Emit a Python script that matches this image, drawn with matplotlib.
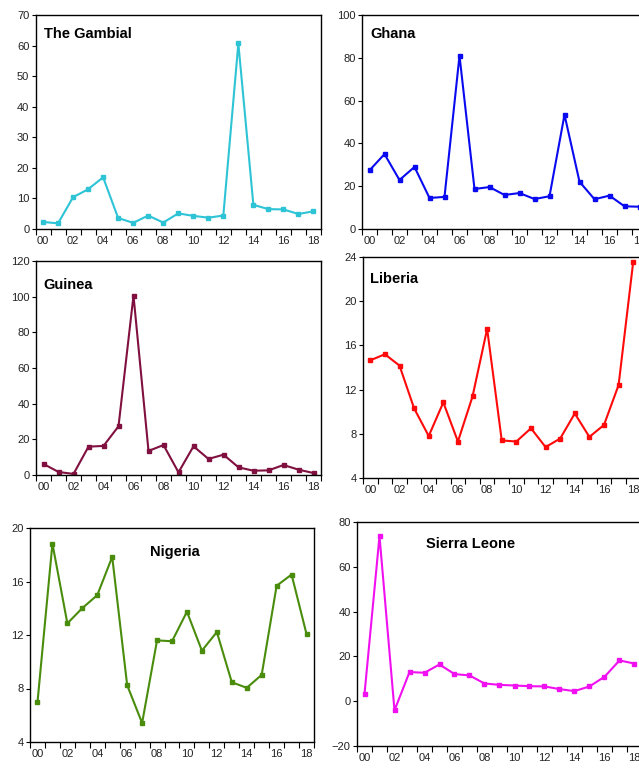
import numpy as np
import matplotlib
matplotlib.use("Agg")
import matplotlib.pyplot as plt

plt.rcParams['font.family'] = ['Liberation Sans', 'DejaVu Sans']

years = list(range(2000, 2019))
year_labels = [f"{y % 100:02d}" for y in years]

gambia = [2.3, 1.85, 10.4, 13.0, 16.9, 3.6, 2.0, 4.4, 2.1, 5.1, 4.3, 3.7, 4.4,
          60.7, 7.9, 6.5, 6.4, 4.9, 5.8]
ghana = [27.4, 35.0, 22.9, 29.0, 14.5, 15.0, 81.0, 18.7, 19.6, 15.9, 16.8, 14.0,
         15.3, 53.4, 22.1, 13.9, 15.6, 10.6, 10.4]
guinea = [6.2, 1.7, 0.6, 15.9, 16.3, 27.3, 100.6, 13.5, 16.8, 1.5, 16.1, 9.0,
          11.4, 4.3, 2.4, 2.6, 5.6, 3.0, 1.1]
liberia = [14.65, 15.2, 14.17, 10.3, 7.8, 10.84, 7.3, 11.38, 17.5, 7.4, 7.3,
           8.5, 6.8, 7.57, 9.84, 7.72, 8.8, 12.41, 23.55]
nigeria = [6.96, 18.83, 12.87, 14.01, 14.98, 17.84, 8.25, 5.42, 11.6, 11.53,
           13.74, 10.83, 12.22, 8.47, 8.05, 9.02, 15.68, 16.52, 12.07]
sierra_leone = [3.2, 73.7, -4.1, 13.0, 12.7, 16.4, 12.1, 11.5, 7.9, 7.3, 7.0,
                6.7, 6.6, 5.4, 4.5, 6.6, 10.9, 18.2, 16.8]

W, H = 639, 769
fig = plt.figure(figsize=(W / 100, H / 100), dpi=100)


def px_axes(l, t, r, b):
    return fig.add_axes([l / W, 1 - b / H, (r - l) / W, (b - t) / H])


# (name, values, colour, axes box in px, y limits, y ticks, title position)
panels = [
    ("The Gambial", gambia, "#2EC4D6", (35.5, 15, 321, 229), (0, 70), range(0, 71, 10), (0.03, 0.91, 'left')),
    ("Ghana", ghana, "#0A0AF0", (362, 15, 647, 229), (0, 100), range(0, 101, 20), (0.03, 0.91, 'left')),
    ("Guinea", guinea, "#80103F", (36, 261, 321, 475), (0, 120), range(0, 121, 20), (0.025, 0.89, 'left')),
    ("Liberia", liberia, "#FF0A0A", (363, 257, 640.5, 478), (4, 24), range(4, 25, 4), (0.025, 0.90, 'left')),
    ("Nigeria", nigeria, "#4A8C0C", (30, 528, 314, 742), (4, 20), range(4, 21, 4), (0.51, 0.89, 'center')),
    ("Sierra Leone", sierra_leone, "#F010F0", (357, 522, 642, 746), (-20, 80), range(-20, 81, 20), (0.40, 0.90, 'center')),
]

x = np.arange(len(years))
for name, vals, col, box, ylim, yticks, tpos in panels:
    ax = px_axes(*box)
    ax.plot(x, vals, color=col, lw=1.5, marker='s', ms=3.2, mec=col, mfc=col)
    ax.set_xlim(-0.5, len(years) - 0.5)
    ax.set_ylim(*ylim)
    ax.set_yticks(list(yticks))
    ax.set_xticks(np.arange(-0.5, len(years), 1))
    ax.set_xticklabels([])
    ax.set_xticks(x[::2], minor=True, labels=year_labels[::2])
    ax.tick_params(axis='x', which='major', length=4, width=0.8, direction='out')
    ax.tick_params(axis='x', which='minor', length=0, pad=5, labelsize=8, labelcolor='#222222')
    ax.tick_params(axis='y', length=3, width=0.8, pad=1.5, labelsize=8, labelcolor='#222222')
    for s in ax.spines.values():
        s.set_linewidth(1.0)
    ax.text(tpos[0], tpos[1], name, transform=ax.transAxes, ha=tpos[2], va='center',
            fontsize=10.5, fontweight='bold')

fig.savefig("out.png", dpi=100)
